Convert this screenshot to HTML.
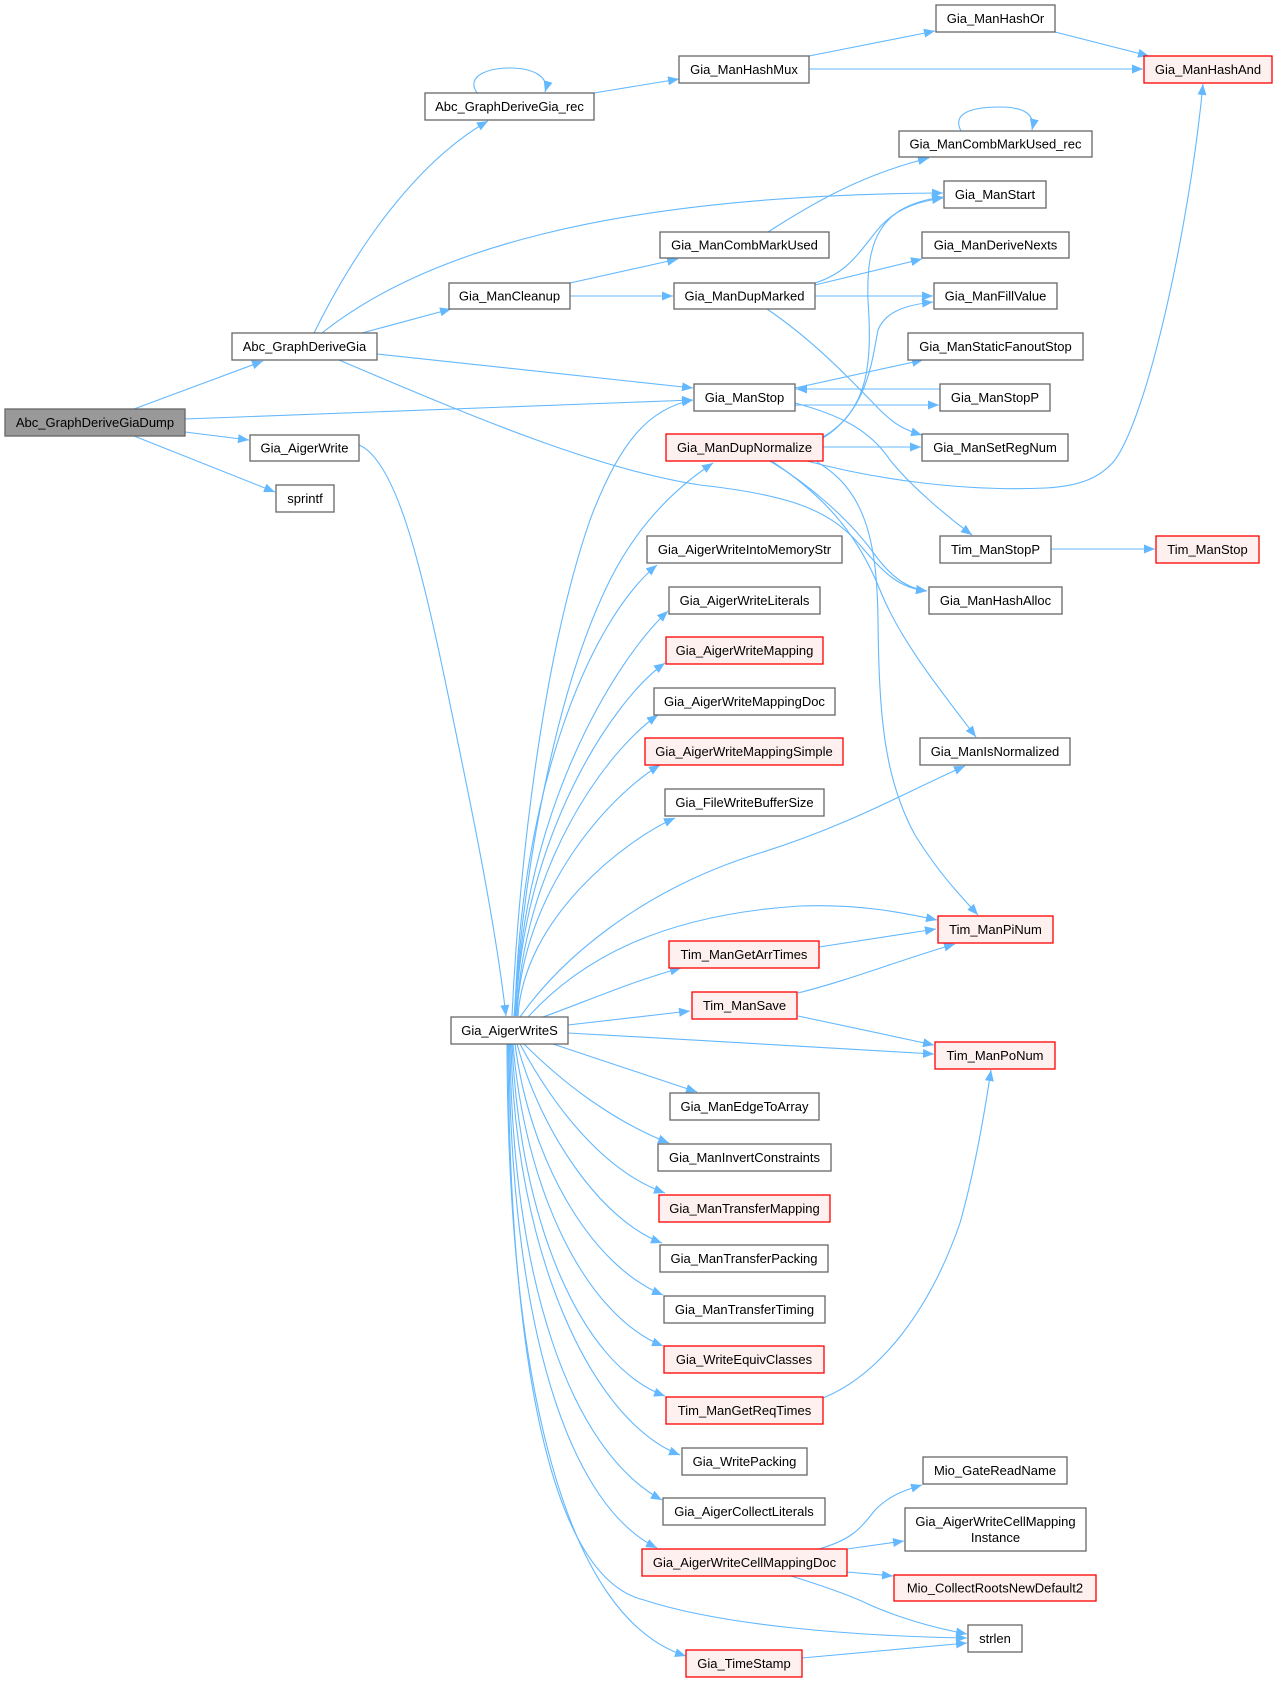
<!DOCTYPE html>
<html><head><meta charset="utf-8"><style>
html,body{margin:0;padding:0;background:#fff;}
svg{display:block;}
text{font-family:"Liberation Sans",Arial,sans-serif;font-size:13px;fill:#000;text-anchor:middle;}
.e{fill:none;stroke:#63B8FF;stroke-width:1.1;marker-end:url(#a);}
.n{fill:#fff;stroke:#666;stroke-width:1.3;}
.r{fill:#FFF0F0;stroke:#FF0000;stroke-width:1.3;}
.g{fill:#999;stroke:#666;stroke-width:1.3;}
</style></head><body>
<svg width="1277" height="1683" viewBox="0 0 1277 1683" xmlns="http://www.w3.org/2000/svg">
<defs><marker id="a" markerWidth="11" markerHeight="9" refX="11" refY="4.5" orient="auto" markerUnits="userSpaceOnUse"><path d="M0,0 L11,4.5 L0,9 z" fill="#63B8FF"/></marker></defs>
<g>
<path class="e" d="M134,409 L263,361"/>
<path class="e" d="M185,419 C400,412 600,403 693,400"/>
<path class="e" d="M185,432 L249,440"/>
<path class="e" d="M134,436 L275,492"/>
<path class="e" d="M314,333 C360,240 420,160 488,121"/>
<path class="e" d="M322,333 C420,255 600,195 943,193"/>
<path class="e" d="M362,333 L451,309"/>
<path class="e" d="M377,354 L693,388"/>
<path class="e" d="M339,360 C480,420 600,470 700,485 C790,495 830,510 860,545 C885,575 900,588 927,591"/>
<path class="e" d="M477,93 C465,75 490,68 510,68 C530,68 550,75 545,92"/>
<path class="e" d="M594,93 L679,79"/>
<path class="e" d="M809,56 L935,31"/>
<path class="e" d="M809,69 L1143,69"/>
<path class="e" d="M1055,32 L1149,56"/>
<path class="e" d="M961,131 C950,110 980,107 1000,107 C1020,107 1036,112 1032,130"/>
<path class="e" d="M768,232 C810,205 860,175 929,158"/>
<path class="e" d="M570,283 L678,259"/>
<path class="e" d="M570,296 L673,296"/>
<path class="e" d="M815,283 C850,272 860,250 880,227 C895,210 915,202 943,198"/>
<path class="e" d="M815,285 L922,259"/>
<path class="e" d="M815,296 L933,296"/>
<path class="e" d="M767,309 C820,345 860,390 880,410 C895,425 905,430 922,435"/>
<path class="e" d="M823,437 C870,410 872,360 868,300 C866,240 880,205 943,197"/>
<path class="e" d="M823,438 C868,410 872,360 878,330 C885,312 905,305 933,302"/>
<path class="e" d="M823,447 L921,447"/>
<path class="e" d="M807,461 C870,478 960,492 1046,488 C1080,486 1100,478 1115,460 C1150,410 1190,220 1203,84"/>
<path class="e" d="M770,461 C810,485 850,520 875,555 C890,575 905,588 927,591"/>
<path class="e" d="M773,462 C830,500 860,540 880,590 C900,640 940,690 976,737"/>
<path class="e" d="M817,462 C865,490 877,540 878,620 C879,720 885,780 915,835 C940,875 960,895 978,915"/>
<path class="e" d="M795,388 L923,360"/>
<path class="e" d="M940,389 L796,389"/>
<path class="e" d="M795,405 L939,405"/>
<path class="e" d="M795,403 C840,415 870,430 890,460 C910,485 945,515 972,535"/>
<path class="e" d="M1051,549 L1155,549"/>
<path class="e" d="M359,445 C395,460 420,560 445,680 C470,800 495,920 506,1016"/>
<!-- fan up -->
<path class="e" d="M512,1016 C520,850 545,650 590,520 C620,440 650,408 693,400"/>
<path class="e" d="M514,1016 C525,850 560,680 610,580 C640,520 680,485 713,463"/>
<path class="e" d="M515,1016 C520,790 590,620 657,565"/>
<path class="e" d="M516,1016 C521,813 615,660 668,611"/>
<path class="e" d="M516,1016 C521,840 612,700 665,663"/>
<path class="e" d="M517,1016 C522,866 607,750 658,715"/>
<path class="e" d="M517,1016 C522,890 610,795 660,765"/>
<path class="e" d="M518,1016 C524,918 625,840 675,818"/>
<path class="e" d="M520,1017 C560,960 640,890 760,853 C850,825 910,790 965,766"/>
<path class="e" d="M528,1017 C580,960 660,915 800,906 C860,904 900,912 937,920"/>
<path class="e" d="M543,1017 C590,1000 630,982 681,968"/>
<path class="e" d="M819,947 L936,929"/>
<path class="e" d="M568,1025 L690,1011"/>
<path class="e" d="M798,993 C850,980 900,960 955,944"/>
<path class="e" d="M798,1016 L934,1045"/>
<path class="e" d="M568,1033 C700,1040 850,1050 934,1054"/>
<!-- fan down -->
<path class="e" d="M553,1044 L697,1092"/>
<path class="e" d="M524,1044 C560,1080 610,1120 669,1143"/>
<path class="e" d="M520,1044 C550,1100 600,1170 665,1193"/>
<path class="e" d="M517,1044 C540,1130 600,1220 662,1243"/>
<path class="e" d="M515,1044 C530,1160 590,1265 663,1295"/>
<path class="e" d="M513,1044 C525,1190 585,1315 663,1346"/>
<path class="e" d="M512,1044 C520,1220 580,1365 665,1396"/>
<path class="e" d="M511,1044 C515,1250 590,1420 680,1455"/>
<path class="e" d="M510,1044 C512,1280 570,1450 662,1500"/>
<path class="e" d="M509,1044 C510,1300 560,1500 657,1548"/>
<path class="e" d="M508,1044 C510,1400 560,1580 644,1600 C720,1625 850,1636 967,1638"/>
<path class="e" d="M507,1044 C508,1400 570,1620 686,1656"/>
<path class="e" d="M823,1398 C880,1375 930,1310 960,1223 C975,1170 985,1110 991,1070"/>
<path class="e" d="M819,1549 C850,1540 860,1530 875,1510 C890,1495 905,1490 922,1485"/>
<path class="e" d="M847,1549 L904,1541"/>
<path class="e" d="M847,1572 L893,1576"/>
<path class="e" d="M791,1576 C820,1585 850,1595 870,1605 C900,1618 935,1628 967,1634"/>
<path class="e" d="M802,1658 L967,1643"/>
</g>
<g>
<rect class="g" x="5" y="409" width="180" height="27"/><text x="95" y="427">Abc_GraphDeriveGiaDump</text>
<rect class="n" x="232" y="333" width="145" height="27"/><text x="304.5" y="351">Abc_GraphDeriveGia</text>
<rect class="n" x="425" y="93" width="169" height="27"/><text x="509.5" y="111">Abc_GraphDeriveGia_rec</text>
<rect class="n" x="449" y="283" width="121" height="26"/><text x="509.5" y="300.5">Gia_ManCleanup</text>
<rect class="n" x="250" y="435" width="109" height="26"/><text x="304.5" y="452.5">Gia_AigerWrite</text>
<rect class="n" x="276" y="485" width="58" height="27"/><text x="305" y="503">sprintf</text>
<rect class="n" x="451" y="1017" width="117" height="27"/><text x="509.5" y="1035">Gia_AigerWriteS</text>
<rect class="n" x="936" y="5" width="119" height="27"/><text x="995.5" y="23">Gia_ManHashOr</text>
<rect class="n" x="679" y="56" width="130" height="27"/><text x="744" y="74">Gia_ManHashMux</text>
<rect class="r" x="1144" y="56" width="128" height="27"/><text x="1208" y="74">Gia_ManHashAnd</text>
<rect class="n" x="899" y="131" width="193" height="26"/><text x="995.5" y="148.5">Gia_ManCombMarkUsed_rec</text>
<rect class="n" x="944" y="181" width="102" height="27"/><text x="995" y="199">Gia_ManStart</text>
<rect class="n" x="660" y="232" width="169" height="26"/><text x="744.5" y="249.5">Gia_ManCombMarkUsed</text>
<rect class="n" x="922" y="232" width="147" height="26"/><text x="995.5" y="249.5">Gia_ManDeriveNexts</text>
<rect class="n" x="674" y="283" width="141" height="26"/><text x="744.5" y="300.5">Gia_ManDupMarked</text>
<rect class="n" x="934" y="283" width="123" height="26"/><text x="995.5" y="300.5">Gia_ManFillValue</text>
<rect class="n" x="908" y="333" width="175" height="27"/><text x="995.5" y="351">Gia_ManStaticFanoutStop</text>
<rect class="n" x="694" y="384" width="101" height="27"/><text x="744.5" y="402">Gia_ManStop</text>
<rect class="n" x="940" y="384" width="110" height="27"/><text x="995" y="402">Gia_ManStopP</text>
<rect class="r" x="666" y="434" width="157" height="27"/><text x="744.5" y="452">Gia_ManDupNormalize</text>
<rect class="n" x="922" y="434" width="146" height="27"/><text x="995" y="452">Gia_ManSetRegNum</text>
<rect class="n" x="647" y="536" width="195" height="27"/><text x="744.5" y="554">Gia_AigerWriteIntoMemoryStr</text>
<rect class="n" x="940" y="536" width="111" height="27"/><text x="995.5" y="554">Tim_ManStopP</text>
<rect class="r" x="1156" y="536" width="103" height="27"/><text x="1207.5" y="554">Tim_ManStop</text>
<rect class="n" x="669" y="587" width="151" height="27"/><text x="744.5" y="605">Gia_AigerWriteLiterals</text>
<rect class="n" x="929" y="587" width="133" height="27"/><text x="995.5" y="605">Gia_ManHashAlloc</text>
<rect class="r" x="666" y="637" width="157" height="27"/><text x="744.5" y="655">Gia_AigerWriteMapping</text>
<rect class="n" x="654" y="688" width="181" height="27"/><text x="744.5" y="706">Gia_AigerWriteMappingDoc</text>
<rect class="r" x="645" y="738" width="198" height="27"/><text x="744" y="756">Gia_AigerWriteMappingSimple</text>
<rect class="n" x="920" y="738" width="150" height="27"/><text x="995" y="756">Gia_ManIsNormalized</text>
<rect class="n" x="665" y="789" width="159" height="27"/><text x="744.5" y="807">Gia_FileWriteBufferSize</text>
<rect class="r" x="938" y="916" width="115" height="27"/><text x="995.5" y="934">Tim_ManPiNum</text>
<rect class="r" x="669" y="941" width="150" height="27"/><text x="744" y="959">Tim_ManGetArrTimes</text>
<rect class="r" x="692" y="992" width="105" height="27"/><text x="744.5" y="1010">Tim_ManSave</text>
<rect class="r" x="935" y="1042" width="120" height="27"/><text x="995" y="1060">Tim_ManPoNum</text>
<rect class="n" x="670" y="1093" width="149" height="27"/><text x="744.5" y="1111">Gia_ManEdgeToArray</text>
<rect class="n" x="658" y="1144" width="173" height="27"/><text x="744.5" y="1162">Gia_ManInvertConstraints</text>
<rect class="r" x="659" y="1195" width="171" height="27"/><text x="744.5" y="1213">Gia_ManTransferMapping</text>
<rect class="n" x="660" y="1245" width="168" height="27"/><text x="744" y="1263">Gia_ManTransferPacking</text>
<rect class="n" x="664" y="1296" width="161" height="27"/><text x="744.5" y="1314">Gia_ManTransferTiming</text>
<rect class="r" x="664" y="1346" width="160" height="27"/><text x="744" y="1364">Gia_WriteEquivClasses</text>
<rect class="r" x="666" y="1397" width="157" height="27"/><text x="744.5" y="1415">Tim_ManGetReqTimes</text>
<rect class="n" x="682" y="1448" width="125" height="27"/><text x="744.5" y="1466">Gia_WritePacking</text>
<rect class="n" x="923" y="1457" width="144" height="27"/><text x="995" y="1475">Mio_GateReadName</text>
<rect class="n" x="663" y="1498" width="162" height="27"/><text x="744" y="1516">Gia_AigerCollectLiterals</text>
<rect class="n" x="905" y="1508" width="181" height="43"/><text x="995.5" y="1526">Gia_AigerWriteCellMapping</text><text x="995.5" y="1542">Instance</text>
<rect class="r" x="642" y="1549" width="205" height="27"/><text x="744.5" y="1567">Gia_AigerWriteCellMappingDoc</text>
<rect class="r" x="894" y="1575" width="202" height="26"/><text x="995" y="1592.5">Mio_CollectRootsNewDefault2</text>
<rect class="n" x="968" y="1625" width="54" height="27"/><text x="995" y="1643">strlen</text>
<rect class="r" x="686" y="1650" width="116" height="27"/><text x="744" y="1668">Gia_TimeStamp</text>
</g>
</svg>
</body></html>
